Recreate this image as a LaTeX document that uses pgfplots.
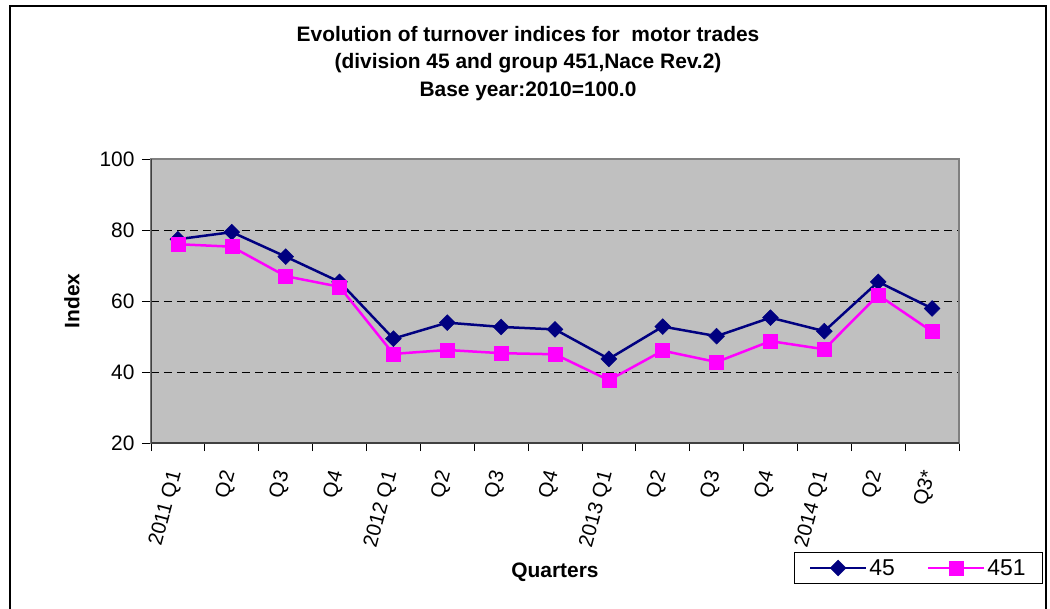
\documentclass[border=0pt]{standalone}
\usepackage{fontspec}
\setmainfont{Liberation Sans}
\usepackage{pgfplots}
\pgfplotsset{compat=1.18}
\definecolor{navyc}{RGB}{0,0,128}
\definecolor{magc}{RGB}{255,0,255}
\definecolor{plotgray}{RGB}{192,192,192}
\definecolor{bordergray}{RGB}{128,128,128}
\begin{document}
\begin{tikzpicture}
\useasboundingbox (-151bp,-166bp) rectangle (899bp,443bp);
\fill[white] (-151bp,-166bp) rectangle (899bp,443bp);
\draw[black, line width=1.2bp] (-141bp,-170bp) -- (-141bp,437bp) -- (895bp,437bp) -- (895bp,-170bp);
\node[font=\bfseries\fontsize{21}{25}\selectfont] at (377bp,409bp) {Evolution of turnover indices for\ \ motor trades};
\node[font=\bfseries\fontsize{21}{25}\selectfont] at (377bp,380bp) {(division 45 and group 451,Nace Rev.2)};
\node[font=\bfseries\fontsize{21}{25}\selectfont] at (377bp,352bp) {Base year:2010=100.0};
\node[font=\bfseries\fontsize{21}{25}\selectfont, rotate=90] at (-79bp,142bp) {Index};
\node[font=\bfseries\fontsize{21}{25}\selectfont] at (404bp,-129bp) {Quarters};
\begin{axis}[
  scale only axis, width=808bp, height=284bp,
  at={(0,0)}, anchor=south west,
  xmin=-0.5, xmax=14.5, ymin=20, ymax=100,
  ytick={20,40,60,80,100},
  xtick={0,...,14},
  xticklabels={2011 Q1,Q2,Q3,Q4,2012 Q1,Q2,Q3,Q4,2013 Q1,Q2,Q3,Q4,2014 Q1,Q2,Q3*},
  minor xtick={-0.5,0.5,...,14.5},
  every major x tick/.append style={draw=none},
  xtick pos=lower, ytick pos=left,
  tick align=outside,
  major tick length=9bp, minor tick length=8bp,
  tick style={black, line width=0.8bp},
  minor tick style={black, line width=0.8bp},
  axis background/.style={fill=plotgray},
  axis line style={draw=bordergray, line width=2.2bp},
  ymajorgrids,
  major grid style={black, line width=0.8bp, dash pattern=on 8bp off 5bp},
  /pgf/number format/assume math mode=true,
  yticklabel style={font=\fontsize{21}{24}\selectfont, xshift=-4bp},
  xticklabel style={font=\fontsize{20.5}{24}\selectfont, yshift=-16bp, xshift=-1bp, rotate=75, anchor=east},
  legend style={at={(1.104,-0.4965)}, anchor=south east, draw=black, line width=0.8bp,
     font=\fontsize{23}{25}\selectfont, inner xsep=15bp, inner ysep=5bp,
     /tikz/every even column/.append style={column sep=30bp}},
  legend columns=2,
  legend image code/.code={\draw[mark repeat=2,mark phase=2] plot coordinates {(0bp,0bp) (28bp,0bp) (56bp,0bp)};},
]
\draw[black!75, line width=1.2bp] (rel axis cs:0,1) -- (rel axis cs:0,0) -- (rel axis cs:1,0);
\addplot[navyc, line width=2.5bp, mark=square*, mark size=5.6bp, mark options={rotate=45, solid, fill=navyc, line width=0.5bp}] coordinates {
(0,77.4) (1,79.4) (2,72.5) (3,65.4) (4,49.4) (5,53.9) (6,52.7) (7,52.0) (8,43.7) (9,52.8) (10,50.1) (11,55.3) (12,51.5) (13,65.4) (14,57.9)};
\addlegendentry{45}
\addplot[magc, line width=2.5bp, mark=square*, mark size=7bp, mark options={solid, fill=magc, line width=0.5bp}] coordinates {
(0,76.0) (1,75.3) (2,67.0) (3,64.0) (4,45.1) (5,46.2) (6,45.3) (7,45.0) (8,37.7) (9,46.0) (10,42.8) (11,48.7) (12,46.4) (13,61.7) (14,51.4)};
\addlegendentry{451}
\end{axis}
\end{tikzpicture}
\end{document}
